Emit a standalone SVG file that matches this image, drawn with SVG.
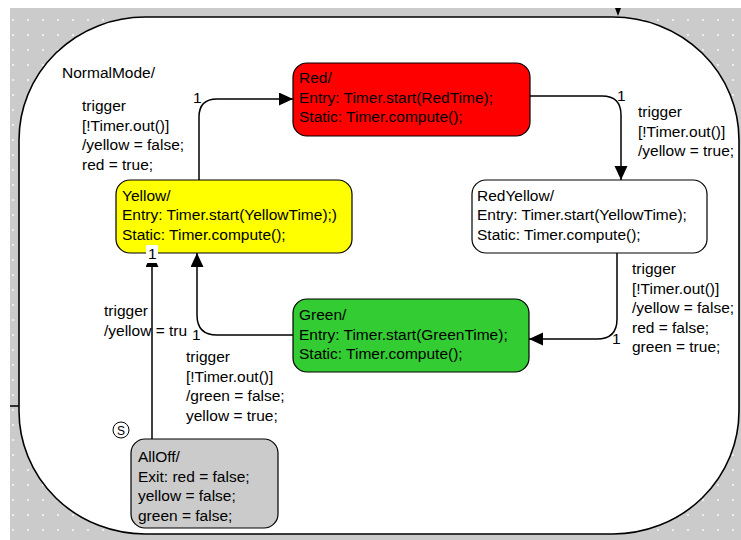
<svg xmlns="http://www.w3.org/2000/svg" width="741" height="540" viewBox="0 0 741 540">
<style>
text{font-family:"Liberation Sans",Arial,sans-serif;font-size:15.5px;fill:#000}
.node{stroke:#000;stroke-width:1.2}
.conn{fill:none;stroke:#000;stroke-width:1.5}
</style>
<defs>
<pattern id="dots" x="12" y="4" width="15" height="15" patternUnits="userSpaceOnUse">
<rect width="15" height="15" fill="#cbcbcb"/>
<rect x="0" y="0" width="2" height="2" fill="#eeeeee"/>
</pattern>
<marker id="arr" markerUnits="userSpaceOnUse" markerWidth="16" markerHeight="14" refX="14" refY="6.5" orient="auto">
<path d="M0,0 L14,6.5 L0,13 z" fill="#000"/>
</marker>
</defs>
<rect x="0" y="0" width="741" height="540" fill="#fff"/>
<rect x="10" y="8" width="731" height="532" fill="url(#dots)"/>
<g id="NormalMode">
<rect x="19" y="17" width="720" height="517" rx="126" ry="123" fill="#fff" stroke="#000" stroke-width="1.6"/>
<line x1="10" y1="406" x2="19" y2="406" stroke="#000" stroke-width="1.5"/>
<path d="M615,8 L621,8 L618,16 z" fill="#000"/>
<text x="62" y="78">NormalMode/</text>
</g>
<g id="connectors">
<path class="conn" d="M199,180 V117 Q199,99 217,99 H293" marker-end="url(#arr)"/>
<path class="conn" d="M530,96 H602 Q621,96 621,115 V180" marker-end="url(#arr)"/>
<path class="conn" d="M617,253 V319 Q617,339 597,339 H529" marker-end="url(#arr)"/>
<path class="conn" d="M293,335 H217 Q197,335 197,315 V253" marker-end="url(#arr)"/>
<path class="conn" d="M152,439 V253" marker-end="url(#arr)"/>
<text x="193" y="103">1</text>
<text x="617" y="101">1</text>
<text x="612" y="344">1</text>
<text x="192" y="340">1</text>
<text x="82" y="111">trigger</text>
<text x="82" y="130.5">[!Timer.out()]</text>
<text x="82" y="150">/yellow = false;</text>
<text x="82" y="169.5">red = true;</text>
<text x="638" y="117">trigger</text>
<text x="638" y="136.5">[!Timer.out()]</text>
<text x="638" y="156">/yellow = true;</text>
<text x="632" y="274">trigger</text>
<text x="632" y="293.5">[!Timer.out()]</text>
<text x="632" y="313">/yellow = false;</text>
<text x="632" y="332.5">red = false;</text>
<text x="632" y="352">green = true;</text>
<text x="186" y="362">trigger</text>
<text x="186" y="381.5">[!Timer.out()]</text>
<text x="186" y="401">/green = false;</text>
<text x="186" y="420.5">yellow = true;</text>
<text x="104" y="316">trigger</text>
<text x="104" y="335.5">/yellow = tru</text>
</g>
<g id="Red">
<rect class="node" x="293" y="63" width="237" height="73" rx="14" fill="#ff0000"/>
<text x="299" y="83">Red/</text>
<text x="299" y="102.5">Entry: Timer.start(RedTime);</text>
<text x="299" y="122">Static: Timer.compute();</text>
</g>
<g id="Yellow">
<rect class="node" x="116" y="180" width="236" height="73" rx="14" fill="#ffff00"/>
<text x="122" y="200.5">Yellow/</text>
<text x="122" y="220">Entry: Timer.start(YellowTime);)</text>
<text x="122" y="239.5">Static: Timer.compute();</text>
</g>
<g id="RedYellow">
<rect class="node" x="472" y="180" width="235" height="73" rx="14" fill="#fff"/>
<text x="477" y="200.5">RedYellow/</text>
<text x="477" y="220">Entry: Timer.start(YellowTime);</text>
<text x="477" y="239.5">Static: Timer.compute();</text>
</g>
<g id="Green">
<rect class="node" x="293" y="299" width="236" height="73" rx="14" fill="#33cc33"/>
<text x="299" y="320">Green/</text>
<text x="299" y="339.5">Entry: Timer.start(GreenTime);</text>
<text x="299" y="359">Static: Timer.compute();</text>
</g>
<g id="AllOff">
<rect class="node" x="131" y="439" width="147" height="89" rx="14" fill="#cbcbcb"/>
<text x="138" y="462">AllOff/</text>
<text x="138" y="481.5">Exit: red = false;</text>
<text x="138" y="501">yellow = false;</text>
<text x="138" y="520.5">green = false;</text>
</g>
<g id="label-1-alloff">
<rect x="146" y="245" width="12" height="18" fill="#fff"/>
<text x="148" y="259">1</text>
</g>
<g id="start-marker">
<circle cx="121" cy="430" r="8" fill="#fff" stroke="#000" stroke-width="1"/>
<text x="121" y="434.5" text-anchor="middle" style="font-size:12px">S</text>
</g>
</svg>
